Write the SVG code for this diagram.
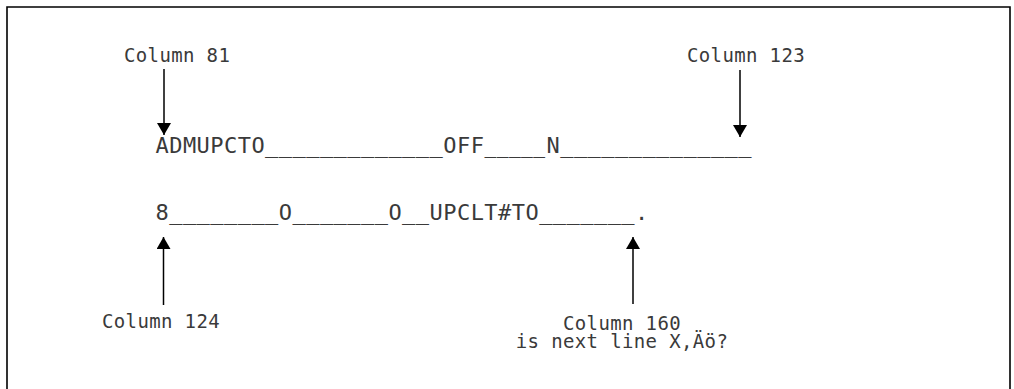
<svg xmlns="http://www.w3.org/2000/svg" width="1014" height="389" viewBox="0 0 1014 389">
<style>
.frame{fill:none;stroke:#000;stroke-width:1.6}
.conn{stroke:#000;stroke-width:1.5;fill:none;marker-end:url(#ah)}
.code{font-family:"DejaVu Sans Mono","Liberation Mono",monospace;font-size:22px;letter-spacing:0.456px;fill:#3a3a3a}
.lbl{font-family:"DejaVu Sans Mono","Liberation Mono",monospace;font-size:19px;letter-spacing:0.36px;fill:#3a3a3a}
</style>
<defs>
<marker id="ah" markerUnits="userSpaceOnUse" markerWidth="13" markerHeight="15" refX="12" refY="7" orient="auto">
<path d="M0,0 L12,7 L0,14 z" fill="#000"/>
</marker>
</defs>
<rect width="1014" height="389" fill="#fff"/>
<path class="frame" d="M7,400 V7 H1010 V400"/>
<g id="line1">
<text class="code" y="153"><tspan x="155.5">ADMUPCTO_____________OFF</tspan><tspan x="484.5" textLength="61" lengthAdjust="spacingAndGlyphs">_____</tspan><tspan x="546.5">N______________</tspan></text>
</g>
<g id="line2">
<text class="code" x="155.5" y="220">8________O_______O__UPCLT#TO_______.</text>
</g>
<g id="label-col81"><text class="lbl" x="124" y="62">Column 81</text></g>
<g id="label-col123"><text class="lbl" x="687" y="62">Column 123</text></g>
<g id="label-col124"><text class="lbl" x="102" y="328">Column 124</text></g>
<g id="label-col160"><text class="lbl" text-anchor="middle" x="622" y="330">Column 160<tspan x="622" dy="18">is next line X,Äö?</tspan></text></g>
<g id="connectors">
<line class="conn" x1="164" y1="69" x2="164" y2="135"/>
<line class="conn" x1="740" y1="70" x2="740" y2="137"/>
<line class="conn" x1="163.5" y1="305" x2="163.5" y2="237"/>
<line class="conn" x1="633" y1="304" x2="633" y2="237"/>
</g>
</svg>
